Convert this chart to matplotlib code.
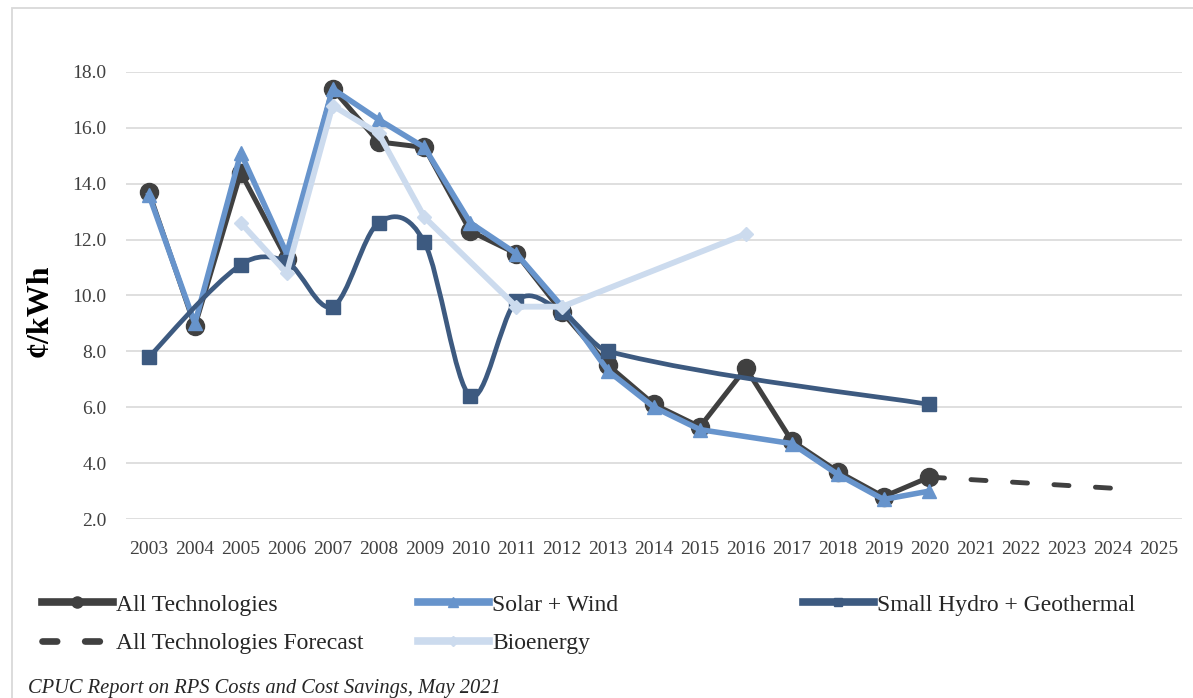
import numpy as np
import matplotlib
matplotlib.use('Agg')
import matplotlib.pyplot as plt
from matplotlib.path import Path
from matplotlib.patches import PathPatch, Rectangle
from matplotlib.lines import Line2D

plt.rcParams['font.family'] = ['Liberation Serif', 'DejaVu Serif']

# ---------------- data ----------------
years = [str(y) for y in range(2003, 2026)]
N = None
all_tech = [13.7, 8.9, 14.4, 11.3, 17.4, 15.5, 15.3, 12.3, 11.5, 9.4, 7.5, 6.1, 5.3, 7.4,
            4.8, 3.7, 2.8, 3.5, N, N, N, N, N]
solar_wind = [13.6, 9.0, 15.1, 11.5, 17.4, 16.3, 15.3, 12.6, 11.5, 9.6, 7.3, 6.0, 5.2, N,
              4.7, 3.6, 2.7, 3.0, N, N, N, N, N]
small_hydro_geo = [7.8, N, 11.1, 11.2, 9.6, 12.6, 11.9, 6.4, 9.8, 9.4, 8.0, N, N, N,
                   N, N, N, 6.1, N, N, N, N, N]
forecast = [N, N, N, N, N, N, N, N, N, N, N, N, N, N,
            N, N, N, 3.5, 3.4, 3.3, 3.2, 3.1, N]
bioenergy = [N, N, 12.6, 10.8, 16.8, 15.8, 12.8, N, 9.6, 9.6, N, N, N, 12.2,
             N, N, N, N, N, N, N, N, N]
y_ticks = [2.0, 4.0, 6.0, 8.0, 10.0, 12.0, 14.0, 16.0, 18.0]

labels = ['All Technologies', 'Solar + Wind', 'Small Hydro + Geothermal',
          'All Technologies Forecast', 'Bioenergy']
c_all = '#404040'
c_sw = '#6794CC'
c_shg = '#3D5A80'
c_bio = '#CCDBEE'
c_grid = '#D9D9D9'
c_tick = '#404040'


def valid(vals):
    xs = [i for i, v in enumerate(vals) if v is not None]
    ys = [v for v in vals if v is not None]
    return np.array(xs, float), np.array(ys, float)


def smooth_path(xs, ys):
    """Cubic Bezier smoothing (Excel-like), tangents from neighbouring points."""
    n = len(xs)
    slopes = np.zeros(n)
    for i in range(n):
        if i == 0:
            slopes[i] = (ys[1] - ys[0]) / (xs[1] - xs[0])
        elif i == n - 1:
            slopes[i] = (ys[i] - ys[i - 1]) / (xs[i] - xs[i - 1])
        else:
            slopes[i] = (ys[i + 1] - ys[i - 1]) / (xs[i + 1] - xs[i - 1])
    verts = [(xs[0], ys[0])]
    codes = [Path.MOVETO]
    for i in range(n - 1):
        dx = xs[i + 1] - xs[i]
        k1 = dx / 6 if i == 0 else dx / 3
        k2 = dx / 6 if i + 1 == n - 1 else dx / 3
        verts += [(xs[i] + k1, ys[i] + slopes[i] * k1),
                  (xs[i + 1] - k2, ys[i + 1] - slopes[i + 1] * k2),
                  (xs[i + 1], ys[i + 1])]
        codes += [Path.CURVE4] * 3
    return Path(verts, codes)


W, H = 1193, 698
fig = plt.figure(figsize=(W / 100, H / 100), dpi=100)
ax = fig.add_axes([126 / W, 1 - 519 / H, (1182 - 126) / W, (519 - 72) / H])

ax.set_xlim(-0.5, len(years) - 0.5)
ax.set_ylim(2.0, 18.0)
ax.set_yticks(y_ticks)
ax.set_yticklabels([f'{t:.1f}' for t in y_ticks])
ax.set_xticks(range(len(years)))
ax.set_xticklabels(years)
ax.grid(axis='y', color=c_grid, lw=1.2, zorder=0)
ax.set_axisbelow(True)
for s in ax.spines.values():
    s.set_visible(False)
ax.tick_params(axis='both', length=0, labelsize=14, labelcolor=c_tick)
ax.tick_params(axis='y', pad=14)
ax.tick_params(axis='x', pad=16)

# All technologies
x, y = valid(all_tech)
ax.plot(x, y, color=c_all, lw=3.6, marker='o', ms=13, zorder=3, solid_joinstyle='round')
# Solar + wind
x, y = valid(solar_wind)
ax.plot(x, y, color=c_sw, lw=4.0, marker='^', ms=10.5, zorder=4, solid_joinstyle='round')
# Small hydro + geothermal (smoothed)
x, y = valid(small_hydro_geo)
ax.add_patch(PathPatch(smooth_path(x, y), facecolor='none', edgecolor=c_shg, lw=3.4,
                       zorder=5, capstyle='round', joinstyle='round'))
ax.plot(x, y, ls='none', color=c_shg, marker='s', ms=9.5, zorder=5)
# Forecast
x, y = valid(forecast)
ax.plot(x, y, color=c_all, lw=3.5, dashes=(3.1, 5.45), dash_capstyle='round', zorder=5)
# Bioenergy
x, y = valid(bioenergy)
ax.plot(x, y, color=c_bio, lw=4.2, marker='D', ms=7.5, zorder=6, solid_joinstyle='round')

# y label
fig.text(40 / W, 1 - 311 / H, '¢/kWh', rotation=90, ha='center', va='center',
         fontsize=23, fontweight='bold', color='black')

# legends
h_all = Line2D([], [], color=c_all, lw=5.5, marker='o', ms=8)
h_sw = Line2D([], [], color=c_sw, lw=5.5, marker='^', ms=7)
h_shg = Line2D([], [], color=c_shg, lw=5.5, marker='s', ms=6)
h_fc = Line2D([], [], color=c_all, lw=4.8, dashes=(2.2, 4.2), dash_capstyle='round')
h_bio = Line2D([], [], color=c_bio, lw=5.5, marker='D', ms=5)

common = dict(frameon=False, fontsize=17, handlelength=3.0, handletextpad=0.15,
              labelspacing=0.72, borderpad=0, borderaxespad=0, loc='upper left',
              labelcolor='#262626')
fig.legend([h_all, h_fc], [labels[0], labels[3]],
           bbox_to_anchor=(42 / W, 1 - 594 / H), **common)
fig.legend([h_sw, h_bio], [labels[1], labels[4]],
           bbox_to_anchor=(418 / W, 1 - 594 / H), **common)
fig.legend([h_shg], [labels[2]],
           bbox_to_anchor=(803 / W, 1 - 594 / H), **common)

# source caption
fig.text(28 / W, 1 - 693 / H, 'CPUC Report on RPS Costs and Cost Savings, May 2021',
         ha='left', va='baseline', fontsize=14.8, style='italic', color='#262626')

# chart border
fig.patches.append(Rectangle((12 / W, -0.1), 1.2, (H - 8) / H + 0.1, transform=fig.transFigure,
                             facecolor='none', edgecolor=c_grid, lw=1.3, clip_on=False))

fig.savefig('out.png', dpi=100)
